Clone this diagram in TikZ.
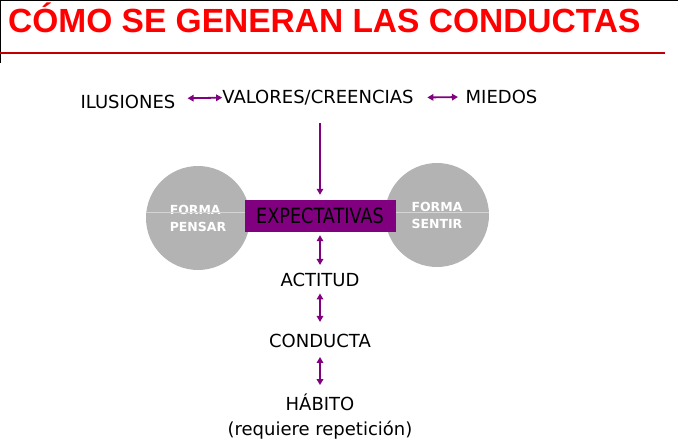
\documentclass[tikz,border=0pt]{standalone}
\usepackage{fontspec}
\setmainfont{DejaVu Sans}
\newfontfamily\titlefont{Liberation Sans}
\usetikzlibrary{arrows.meta, calc}
\definecolor{morado}{RGB}{128,0,128}
\definecolor{gris}{RGB}{179,179,179}
\definecolor{grisclaro}{RGB}{212,212,212}
\definecolor{rojo}{RGB}{255,0,0}
\definecolor{rojooscuro}{RGB}{192,0,0}

\begin{document}
\begin{tikzpicture}[x=1pt, y=-1pt,
  txt/.style={inner sep=0pt, anchor=base, font=\fontsize{18}{22}\selectfont},
  circ/.style={circle, fill=gris, minimum size=104pt, inner sep=0pt, align=left,
    text=white, font=\fontsize{12.5}{17}\selectfont\bfseries},
  caja/.style={rectangle, fill=morado, minimum width=151pt, minimum height=32pt, inner sep=0pt},
  flecha/.style={morado, line width=1.8pt, -{Triangle[length=6pt,width=6.5pt]}},
  doble/.style={flecha, {Triangle[length=6pt,width=6.5pt]}-{Triangle[length=6pt,width=6.5pt]}}]
\useasboundingbox (0,0) rectangle (678,447);
% cabecera
\draw[line width=2pt] (0,0) -- (678,0);
\draw[line width=2pt] (0,0) -- (0,63);
\draw[rojooscuro, line width=1.5pt] (0,53) -- (665,53);
\node[inner sep=0pt, anchor=base west, text=rojo, font=\titlefont\fontsize{33.5}{36}\selectfont\bfseries]
  (titulo) at (8,32) {CÓMO SE GENERAN LAS CONDUCTAS};
% fila superior
\node[txt] (ilu) at (128,108) {ILUSIONES};
\node[txt] (val) at (318,103.5) {VALORES/CREENCIAS};
\node[txt] (mie) at (501.5,103.5) {MIEDOS};
\draw[doble, shorten <=12pt] ([yshift=3pt]ilu.east) -- (val.west);
\draw[doble, shorten <=13.5pt, shorten >=7.5pt] (val.east) -- (mie.west);
% formas
\node[circ] (pensar) at (198,218) {FORMA\\PENSAR};
\node[circ] (sentir) at (437,215) {FORMA\\SENTIR};
\draw[grisclaro, line width=0.8pt] ([yshift=6pt]pensar.west) -- ([yshift=3pt]sentir.east);
\node[caja] (expt) at (320,216) {\fontsize{21}{24}\selectfont\scalebox{0.84}[1]{EXPECTATIVAS}};
\draw[flecha, shorten <=18pt, shorten >=5pt] (val.south -| expt.north) -- (expt.north);
% cadena
\node[txt] (act) at (320,286) {ACTITUD};
\node[txt] (cond) at (320,347.5) {CONDUCTA};
\node[txt] (hab) at (320,410) {HÁBITO};
\node[txt] (rep) at (320,435) {(requiere repetición)};
\draw[doble, shorten <=3pt, shorten >=7.5pt] (expt.south) -- (act.north);
\draw[doble, shorten <=7pt, shorten >=12pt] (act.south) -- (cond.north);
\draw[doble, shorten <=9pt, shorten >=8pt] (cond.south) -- (hab.north);
\end{tikzpicture}
\end{document}
